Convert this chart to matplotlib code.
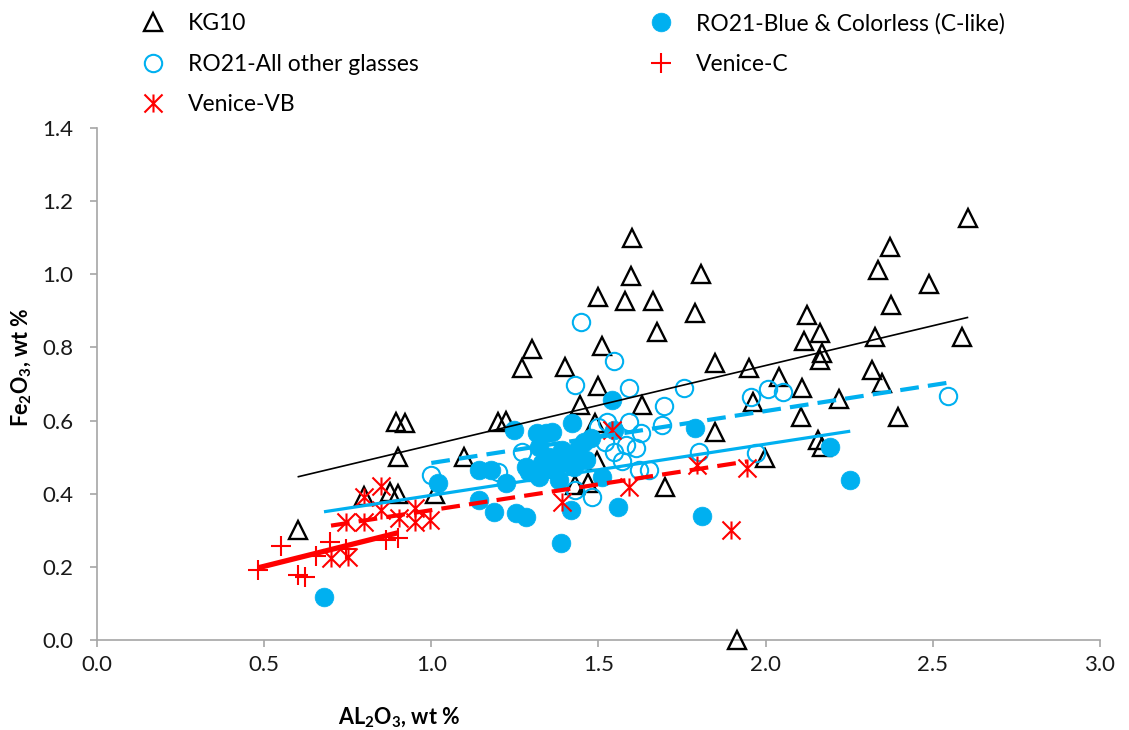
import matplotlib.pyplot as plt
from matplotlib.path import Path
from matplotlib.ticker import MultipleLocator, FormatStrFormatter
import numpy as np

plt.rcParams['font.family'] = ['Lato', 'DejaVu Sans']
plt.rcParams['mathtext.fontset'] = 'custom'
plt.rcParams['mathtext.rm'] = 'Lato'
plt.rcParams['mathtext.bf'] = 'Lato:bold'

# KG10 glasses
kg10_al = [0.60, 0.80, 0.875, 0.90, 1.01, 0.90, 0.895, 0.922, 1.098, 1.198, 1.223, 1.272,
           1.30, 1.40, 1.445, 1.43, 1.47, 1.497, 1.49, 1.50, 1.51, 1.50, 1.58, 1.663,
           1.596, 1.60, 1.676, 1.63, 1.70, 1.79, 1.808, 1.85, 1.85, 1.949, 1.961, 1.997,
           2.039, 2.108, 2.106, 2.123, 2.116, 2.163, 2.168, 2.163, 2.158, 2.168, 2.218,
           2.327, 2.317, 2.349, 2.397, 2.337, 2.372, 2.375, 2.488, 2.588, 2.606, 1.913]
kg10_fe = [0.30, 0.395, 0.405, 0.40, 0.40, 0.50, 0.597, 0.594, 0.50, 0.597, 0.60, 0.744,
           0.796, 0.747, 0.643, 0.425, 0.43, 0.49, 0.592, 0.695, 0.805, 0.939, 0.928, 0.928,
           0.995, 1.10, 0.841, 0.643, 0.419, 0.893, 1.001, 0.757, 0.57, 0.743, 0.652, 0.497,
           0.72, 0.688, 0.611, 0.889, 0.818, 0.839, 0.784, 0.766, 0.547, 0.529, 0.658,
           0.828, 0.738, 0.702, 0.609, 1.012, 1.075, 0.916, 0.973, 0.828, 1.153, 0.0]

# RO21 blue & colorless (C-like)
ro21c_al = [0.679, 1.02, 1.143, 1.178, 1.223, 1.143, 1.188, 1.253, 1.282, 1.248, 1.317,
            1.362, 1.422, 1.541, 1.387, 1.417, 1.293, 1.322, 1.332, 1.352, 1.367, 1.382,
            1.392, 1.402, 1.417, 1.427, 1.442, 1.457, 1.477, 1.462, 1.322, 1.342, 1.511,
            1.558, 1.79, 1.81, 2.193, 2.253, 1.546, 1.282, 1.312]
ro21c_fe = [0.118, 0.43, 0.465, 0.465, 0.428, 0.383, 0.351, 0.346, 0.337, 0.574, 0.565,
            0.57, 0.592, 0.656, 0.265, 0.355, 0.46, 0.447, 0.483, 0.501, 0.465, 0.438,
            0.52, 0.483, 0.506, 0.474, 0.529, 0.542, 0.551, 0.492, 0.529, 0.565, 0.447,
            0.364, 0.58, 0.338, 0.529, 0.438, 0.574, 0.474, 0.456]

# RO21 all other glasses
ro21o_al = [1.0, 1.20, 1.27, 1.43, 1.48, 1.447, 1.546, 1.43, 1.591, 1.696, 1.755, 1.50,
            1.525, 1.591, 1.69, 1.626, 1.52, 1.546, 1.581, 1.611, 1.571, 1.621, 1.651,
            1.80, 1.957, 2.007, 2.051, 1.972, 2.544]
ro21o_fe = [0.45, 0.46, 0.513, 0.41, 0.39, 0.87, 0.764, 0.697, 0.688, 0.64, 0.688, 0.583,
            0.595, 0.596, 0.588, 0.565, 0.54, 0.515, 0.533, 0.524, 0.49, 0.465, 0.465,
            0.515, 0.664, 0.686, 0.679, 0.51, 0.666]

# Venice
vc_al = [0.482, 0.551, 0.601, 0.621, 0.656, 0.696, 0.745, 0.865, 0.90]
vc_fe = [0.191, 0.257, 0.178, 0.171, 0.23, 0.269, 0.25, 0.273, 0.278]
vb_al = [0.70, 0.75, 0.745, 0.80, 0.80, 0.85, 0.85, 0.904, 0.95, 0.95, 0.995,
         1.392, 1.541, 1.591, 1.795, 1.944, 1.896]
vb_fe = [0.223, 0.228, 0.323, 0.323, 0.39, 0.42, 0.355, 0.333, 0.36, 0.323, 0.328,
         0.378, 0.574, 0.419, 0.478, 0.47, 0.30]

# linear trends: slope, intercept
trend_kg10 = (0.2175, 0.3155)
trend_ro21c = (0.140, 0.2555)
trend_ro21o = (0.142, 0.342)
trend_vc = (0.229, 0.087)
trend_vb = (0.141, 0.214)

BLUE = '#00B0F0'
RED = '#FF0000'

# excel-style asterisk: X with a vertical bar
asterisk = Path([(0, -1), (0, 1), (-1, -1), (1, 1), (-1, 1), (1, -1)],
                [Path.MOVETO, Path.LINETO] * 3)

fig = plt.figure(figsize=(11.29, 7.30), dpi=100)
ax = fig.add_axes([0.0859, 0.1233, 0.8884, 0.7014])

h_kg, = ax.plot(kg10_al, kg10_fe, ls='none', marker='^', ms=13.5, mfc='none', mec='black',
                mew=1.7, clip_on=False, zorder=3)
h_c, = ax.plot(ro21c_al, ro21c_fe, ls='none', marker='o', ms=13.5, mfc=BLUE, mec=BLUE,
               mew=0.5, zorder=3)
h_o, = ax.plot(ro21o_al, ro21o_fe, ls='none', marker='o', ms=12.5, mfc='none', mec=BLUE,
               mew=1.5, zorder=3)
h_vc, = ax.plot(vc_al, vc_fe, ls='none', marker='+', ms=14, mec=RED, mew=1.5, zorder=3)
h_vb, = ax.plot(vb_al, vb_fe, ls='none', marker=asterisk, ms=13, mfc='none', mec=RED,
                mew=1.5, zorder=3)


def trend(x, coef, **kw):
    xs = np.array([min(x), max(x)])
    ax.plot(xs, coef[0] * xs + coef[1], zorder=4, solid_capstyle='butt', **kw)


trend(kg10_al, trend_kg10, color='black', lw=1.2)
trend(ro21c_al, trend_ro21c, color=BLUE, lw=2.3)
trend(ro21o_al, trend_ro21o, color=BLUE, lw=3, ls=(0, (4.5, 2.2)))
trend(vc_al, trend_vc, color=RED, lw=3.8)
trend(vb_al, trend_vb, color=RED, lw=3, ls=(0, (4.5, 2.2)))

ax.set_xlim(0, 3.0)
ax.set_ylim(0, 1.4)
ax.xaxis.set_major_locator(MultipleLocator(0.5))
ax.yaxis.set_major_locator(MultipleLocator(0.2))
ax.xaxis.set_major_formatter(FormatStrFormatter('%.1f'))
ax.yaxis.set_major_formatter(FormatStrFormatter('%.1f'))
for s in ['top', 'right']:
    ax.spines[s].set_visible(False)
for s in ['left', 'bottom']:
    ax.spines[s].set_color('#A6A6A6')
    ax.spines[s].set_linewidth(1.2)
ax.tick_params(direction='out', length=5, width=1.2, color='#A6A6A6', labelsize=16,
               labelcolor='#1a1a1a')
ax.tick_params(axis='y', pad=12)
ax.tick_params(axis='x', pad=6)

fig.text(399 / 1129, 1 - 718 / 730, r'AL$_\mathbf{2}$O$_\mathbf{3}$, wt %', ha='center',
         va='center', fontsize=15.5, fontweight='bold')
fig.text(22 / 1129, 1 - 367 / 730, r'Fe$_\mathbf{2}$O$_\mathbf{3}$, wt %', ha='center',
         va='center', fontsize=15.5, fontweight='bold', rotation=90)

leg_kw = dict(loc='upper left', frameon=False, fontsize=16.5, handlelength=0.9,
              handletextpad=1.05, labelspacing=0.86, borderaxespad=0, borderpad=0)
fig.legend(handles=[h_kg, h_o, h_vb], labels=['KG10', 'RO21-All other glasses', 'Venice-VB'],
           bbox_to_anchor=(143 / 1129, 1 - 13 / 730), **leg_kw)
fig.legend(handles=[h_c, h_vc], labels=['RO21-Blue & Colorless (C-like)', 'Venice-C'],
           bbox_to_anchor=(651 / 1129, 1 - 13 / 730), **leg_kw)

fig.savefig('out.png', dpi=100)
